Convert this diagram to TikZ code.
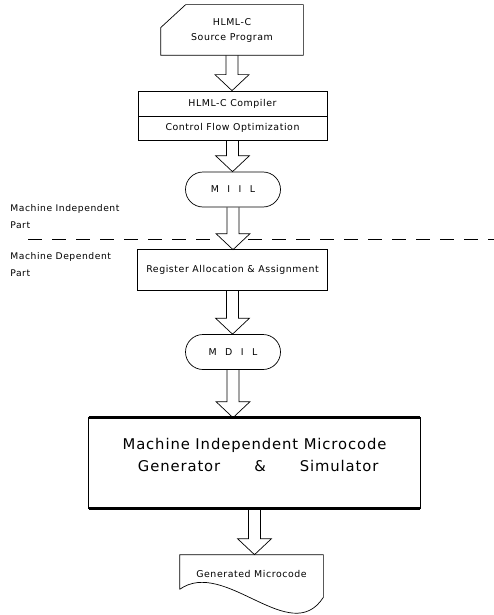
\documentclass[tikz,border=0pt]{standalone}
\usepackage{fontspec}
\setmainfont{DejaVu Sans}
\newfontfamily\spacedfont[LetterSpace=6]{DejaVu Sans}
\usetikzlibrary{calc,shapes.misc}

% hollow block arrow from the bottom of #1 down to the top edge of #2
\newcommand\blockarrow[2]{%
  \coordinate (bt) at (#1.south |- #2.north);
  \draw[arrowline] ($(#1.south)+(-6,0)$) -- ($(bt)+(-6,-16)$) -- ($(bt)+(-17,-16)$)
    -- (bt) -- ($(bt)+(17,-16)$) -- ($(bt)+(6,-16)$) -- ($(#1.south)+(6,0)$);
}

\begin{document}
\begin{tikzpicture}[x=1pt,y=-1pt,
  line width=0.7pt,
  arrowline/.style={line width=0.7pt, line join=miter},
  small/.style={font=\spacedfont\fontsize{9.4}{11}\selectfont},
  plain/.style={small, inner sep=0pt, minimum width=189pt, anchor=center},
  pill/.style={draw, rounded rectangle, small, minimum width=95pt, minimum height=35pt, inner sep=0pt},
  side/.style={font=\spacedfont\fontsize{9.2}{17}\selectfont, align=left, anchor=north west, inner sep=0pt},
  divider/.style={dash pattern=on 14pt off 10pt, line width=0.7pt}
]
\useasboundingbox (0,0) rectangle (494,615);

% source program card with the cut top-left corner
\node[small, minimum width=142pt, minimum height=50pt, inner sep=0pt, align=center] (src) at (232,30)
  {HLML-C\\[4pt]Source Program};
\draw (src.south west) -- ($(src.north west)+(0,23)$) -- ($(src.north west)+(25,0)$)
  -- (src.north east) -- (src.south east) -- cycle;

% compiler with its optimisation stage
\node[plain, draw, minimum height=25pt] (comp) at (232.5,103.5) {HLML-C Compiler};
\node[plain, draw, minimum height=24pt] (cfo) at (232.5,128) {Control Flow Optimization};

% intermediate languages
\node[pill] (miil) at (233,189.5) {M\hspace{0.9em}I\hspace{0.9em}I\hspace{0.9em}L};
\node[plain, minimum height=40pt] (reg) at (232.5,270) {Register Allocation \& Assignment};
\draw[line width=0.7pt] (reg.north west) rectangle (reg.south east);
\draw[line width=1.4pt] (reg.north west) -- (reg.north east) (reg.south west) -- (reg.south east);
\node[pill] (mdil) at (233,352) {M\hspace{0.9em}D\hspace{0.9em}I\hspace{0.9em}L};

% microcode generator (text sits a little above the middle of the box)
\node[inner sep=0pt, minimum width=331pt, minimum height=90pt, align=center, text depth=16pt,
  font=\spacedfont\fontsize{14.8}{22}\selectfont] (gen) at (254.5,463)
  {Machine Independent Microcode\\\hspace{0.5em}Generator\hspace{2.3em}\&\hspace{2.3em}Simulator};
\draw[line width=1.1pt] (gen.north west) rectangle (gen.south east);
\draw[line width=2.4pt] (gen.north west) -- (gen.north east) (gen.south west) -- (gen.south east);

% generated microcode document
\node[small, inner sep=0pt, minimum width=143pt, minimum height=38pt] (doc) at (251.5,574) {Generated Microcode};
\draw ($(doc.south west)+(0,-4)$) -- (doc.north west) -- (doc.north east) -- ($(doc.south east)+(0,4)$)
  .. controls ($(doc.south east)+(-33,55)$) and ($(doc.south west)+(45,-36)$) .. ($(doc.south west)+(0,-4)$);

% connectors
\blockarrow{src}{comp}
\blockarrow{cfo}{miil}
\blockarrow{miil}{reg}
\blockarrow{reg}{mdil}
\blockarrow{mdil}{gen}
\blockarrow{gen}{doc}

% boundary between the two parts
\coordinate (dl1) at (28,239);
\coordinate (dl2) at (213,239);
\coordinate (dr1) at (248,239);
\coordinate (dr2) at (494,239);
\draw[divider] (dl1) -- (dl2);
\draw[divider] (dr1) -- (dr2);

\node[side] (indep) at (10,204) {Machine Independent\\Part};
\node[side] (dep) at (10,252) {Machine Dependent\\Part};
\end{tikzpicture}
\end{document}
